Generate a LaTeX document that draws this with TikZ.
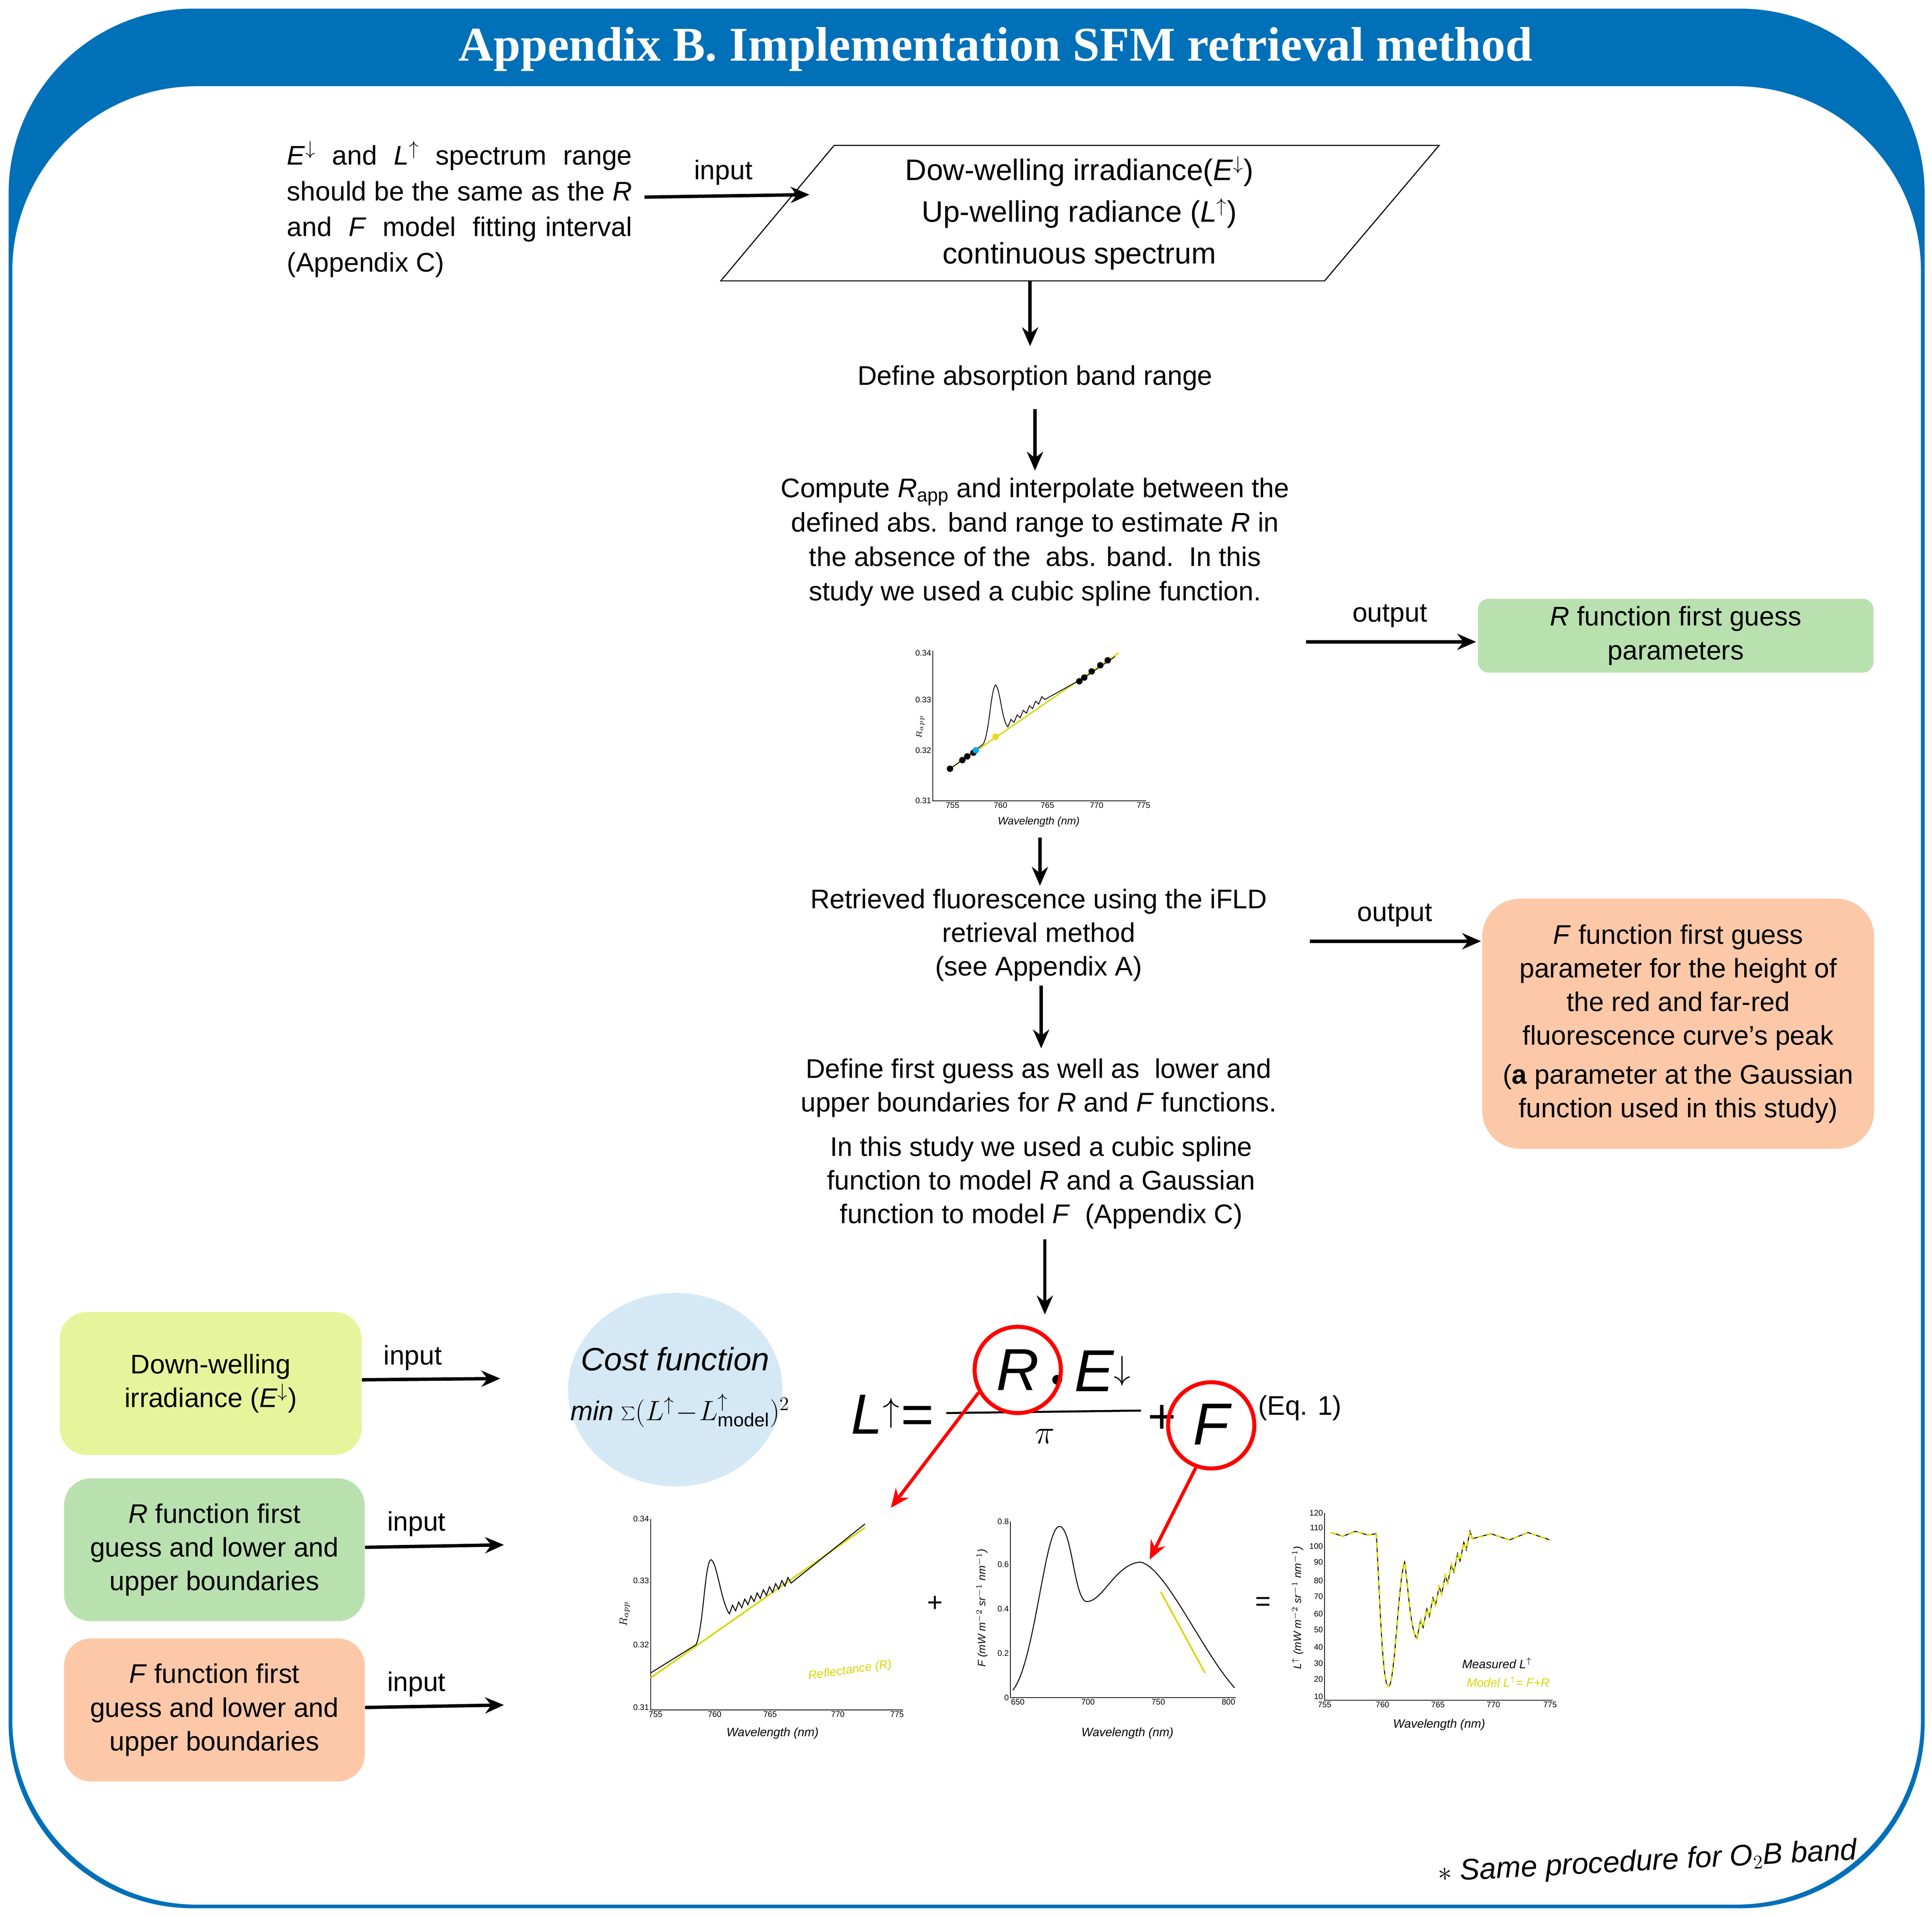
\documentclass[tikz,border=0pt]{standalone}
\usepackage{fontspec}
\setmainfont{Liberation Sans}
\newfontfamily\titlefont{Liberation Serif}
\usetikzlibrary{arrows.meta,shapes.geometric}
\definecolor{hblue}{RGB}{0,112,184}
\definecolor{gbox}{RGB}{185,225,175}
\definecolor{obox}{RGB}{252,200,168}
\definecolor{ybox}{RGB}{230,245,155}
\definecolor{cblue}{RGB}{213,232,245}
\definecolor{yline}{RGB}{215,215,0}
\tikzset{
 txt/.style={font=\fontsize{20}{25}\selectfont,align=center,inner sep=0},
 arr/.style={line width=2.5pt,-{Stealth[length=14pt,width=12pt]}},
 lbl/.style={font=\fontsize{20}{25}\selectfont,inner sep=0},
 box/.style={rounded corners=20pt,font=\fontsize{20}{25}\selectfont,align=center},
 ax/.style={line width=0.6pt},
 tk/.style={font=\fontsize{6}{7}\selectfont,inner sep=1pt},
 red/.style={draw=red,line width=3pt},
 rarr/.style={draw=red,line width=2.5pt,-{Stealth[length=14pt,width=12pt]}},
 hw/.style={font=\itshape,inner sep=0},
 meas/.style={line width=0.7pt,black},
 modl/.style={line width=1.2pt,yline,dash pattern=on 4pt off 3pt},
}
\begin{document}
\begin{tikzpicture}[x=0.03215cm,y=-0.03215cm]
\useasboundingbox (0,0) rectangle (1568,1556);
% frame
\fill[hblue,rounded corners=150*0.03215cm] (7,7) rectangle (1562,1549);
\fill[white,rounded corners=150*0.03215cm] (10,70) rectangle (1559,1546);
\node[font=\titlefont\bfseries\fontsize{36}{40}\selectfont,text=white] (title) at (808,40) {Appendix B. Implementation SFM retrieval method};
% top left note
\node[font=\fontsize{20}{26.5}\selectfont,text width=280*0.03215cm,align=justify,inner sep=0] (note) at (373,170)
 {\textit{E}$^{\downarrow}$ and \textit{L}$^{\uparrow}$ spectrum range should be the same as the \textit{R}\ \ and\ \ \textit{F}\ \ model\ \ fitting interval (Appendix C)};
\coordinate (in0s) at (523,160); \coordinate (in0e) at (657,158);
\draw[arr] (in0s) -- (in0e);
\node[lbl] (in0l) at (587,140) {input};
% parallelogram
\draw[line width=0.8pt] (585,228) -- (677,118) -- (1168,118) -- (1075,228) -- cycle;
\node[txt,font=\fontsize{22}{31}\selectfont] (para) at (876,173) {Dow-welling irradiance(\textit{E}$^{\downarrow}$)\\Up-welling radiance (\textit{L}$^{\uparrow}$)\\continuous spectrum};
\coordinate (p1) at (836,228); \coordinate (p2) at (836,281);
\draw[arr] (p1) -- (p2);
\node[txt] (def) at (840,307) {Define absorption band range};
\coordinate (p3) at (840,332); \coordinate (p4) at (840,382);
\draw[arr] (p3) -- (p4);
\node[txt,font=\fontsize{20}{25.5}\selectfont] (comp) at (840,440) {Compute \textit{R}$_{\mathrm{app}}$ and interpolate between the\\defined abs. band range to estimate \textit{R} in\\the absence of the\ \ abs. band.\ \ In this\\study we used a cubic spline function.};
% small plot
\draw[ax] (757,528) -- (757,650) -- (930,650);
\foreach \v/\y in {0.34/530,0.33/568,0.32/609,0.31/650} \node[tk,anchor=east] at (757,\y) {\v};
\foreach \v/\x in {755/773,760/812,765/850,770/890,775/928} \node[tk,anchor=north] at (\x,650) {\v};
\node[tk,rotate=90] (sp_y) at (747,590) {$R_{app}$};
\node[tk,font=\itshape\fontsize{8}{9}\selectfont] (sp_x) at (843,667) {Wavelength (nm)};
\draw[yline,line width=1pt] (771,624) -- (908,530);
\draw[line width=0.6pt] (771,624) -- (785,614) -- (798,604) .. controls (803,595) and (804,560) .. (808,556) .. controls (812,560) and (813,585) .. (818,590)
 \foreach \i in {0,...,5}{ -- ++(2.5,-6) -- ++(2.5,2.3) } -- (880,550) -- (905,533);
\foreach \x/\y in {771/624,781/617,785/614,790/611,876/553,880/550,886/545,893/540,899/536} \fill (\x,\y) circle (2.6);
\fill[cyan] (792,609) circle (2.6);
\fill[yellow!90!black] (808,598) circle (2.6);
% output 1
\coordinate (o1s) at (1060,521); \coordinate (o1e) at (1198,521);
\draw[arr] (o1s) -- (o1e);
\node[lbl] (o1l) at (1128,500) {output};
\node[box,fill=gbox,minimum width=321*0.03215cm,minimum height=60*0.03215cm,rounded corners=8pt] (gb1) at (1360,516) {\textit{R} function first guess\\parameters};
\coordinate (p5) at (844,680); \coordinate (p6) at (844,719);
\draw[arr] (p5) -- (p6);
\node[txt] (retr) at (843,759) {Retrieved fluorescence using the iFLD\\retrieval method\\(see Appendix A)};
\coordinate (o2s) at (1063,764); \coordinate (o2e) at (1202,764);
\draw[arr] (o2s) -- (o2e);
\node[lbl] (o2l) at (1132,743) {output};
\node[box,fill=obox,minimum width=318*0.03215cm,minimum height=203*0.03215cm,rounded corners=28pt] (ob1) at (1362,831) {\textit{F} function first guess\\parameter for the height of\\the red and far-red\\fluorescence curve's peak\\[4pt](\textbf{a} parameter at the Gaussian\\function used in this study)};
\coordinate (p7) at (845,800); \coordinate (p8) at (845,851);
\draw[arr] (p7) -- (p8);
\node[txt] (deff) at (843,883) {Define first guess as well as\ \ lower and\\upper boundaries for \textit{R} and \textit{F} functions.};
\node[txt] (study) at (845,960) {In this study we used a cubic spline\\function to model \textit{R} and a Gaussian\\function to model \textit{F}\ \ (Appendix C)};
\coordinate (p9) at (848,1006); \coordinate (p10) at (848,1067);
\draw[arr] (p9) -- (p10);
% left boxes
\node[box,fill=ybox,minimum width=245*0.03215cm,minimum height=116*0.03215cm] (yb) at (171,1123) {Down-welling\\irradiance (\textit{E}$^{\downarrow}$)};
\node[box,fill=gbox,minimum width=244*0.03215cm,minimum height=116*0.03215cm] (gb2) at (174,1258) {\textit{R} function first\\guess and lower and\\upper boundaries};
\node[box,fill=obox,minimum width=244*0.03215cm,minimum height=116*0.03215cm] (ob2) at (174,1388) {\textit{F} function first\\guess and lower and\\upper boundaries};
\coordinate (i1) at (406,1119); \coordinate (i2) at (409,1254); \coordinate (i3) at (409,1384);
\draw[arr] (yb.east |- 0,1120) -- (i1);
\draw[arr] (gb2.east |- 0,1256) -- (i2);
\draw[arr] (ob2.east |- 0,1386) -- (i3);
\node[lbl] (il1) at (335,1102) {input};
\node[lbl] (il2) at (338,1237) {input};
\node[lbl] (il3) at (338,1367) {input};
% cost function
\node[ellipse,fill=cblue,minimum width=174*0.03215cm,minimum height=157*0.03215cm] (cost) at (548,1128) {};
\node[hw,font=\itshape\fontsize{24}{28}\selectfont] (costt) at (548,1103) {Cost function};
\node[hw,font=\itshape\fontsize{20}{24}\selectfont] (costf) at (552,1145) {min $\sum(L^{\uparrow}\!-\!L^{\uparrow}_{\mathrm{model}})^2$};
% equation
\node[hw,font=\itshape\fontsize{42}{46}\selectfont] (eqL) at (724,1148) {L$^{\uparrow}$=};
\draw[line width=1.5pt] (768,1147) -- (926,1145);
\node[hw,font=\itshape\fontsize{44}{48}\selectfont] (eqR) at (826,1112) {R};
\fill (858,1120) circle (4);
\node[hw,font=\itshape\fontsize{44}{48}\selectfont] (eqE) at (895,1113) {E$^{\downarrow}$};
\node[inner sep=0,font=\fontsize{40}{44}\selectfont] (eqpi) at (848,1166) {$\pi$};
\node[inner sep=0,font=\fontsize{36}{40}\selectfont] (eqp) at (943,1152) {+};
\node[hw,font=\itshape\fontsize{44}{48}\selectfont] (eqF) at (983,1156) {F};
\node[inner sep=0,font=\fontsize{20}{24}\selectfont] (eqn) at (1055,1143) {(Eq. 1)};
\node[circle,red,minimum size=70*0.03215cm] (cR) at (826,1112) {};
\node[circle,red,minimum size=70*0.03215cm] (cF) at (983,1157) {};
\coordinate (t1) at (723,1224); \coordinate (t2) at (933,1266);
\draw[rarr] (cR.210) -- (t1);
\draw[rarr] (cF.250) -- (t2);
% plot 1
\draw[ax] (528,1233) -- (528,1388) -- (733,1388);
\foreach \v/\y in {0.34/1233,0.33/1283,0.32/1335,0.31/1386} \node[tk,anchor=east] at (528,\y) {\v};
\foreach \v/\x in {755/532,760/580,765/625,770/680,775/728} \node[tk,anchor=north] at (\x,1388) {\v};
\node[tk,rotate=90,font=\fontsize{8}{9}\selectfont] (p1y) at (507,1310) {$R_{app}$};
\node[tk,font=\itshape\fontsize{9}{10}\selectfont] (p1x) at (627,1407) {Wavelength (nm)};
\draw[yline,line width=1.2pt] (528,1362) -- (702,1240);
\draw[line width=0.7pt] (528,1358) -- (565,1335) .. controls (571,1320) and (572,1268) .. (577,1266) .. controls (582,1268) and (585,1300) .. (592,1310)
 \foreach \i in {0,...,9}{ -- ++(2.5,-7) -- ++(2.5,4.5) } -- (702,1237);
\node[tk,text=yline,font=\itshape\fontsize{9}{10}\selectfont,rotate=8] (p1l) at (690,1356) {Reflectance (R)};
% plus
\node[inner sep=0,font=\fontsize{20}{24}\selectfont] (plus) at (759,1302) {+};
% plot 2
\draw[ax] (820,1235) -- (820,1378) -- (1003,1378);
\foreach \v/\y in {0.8/1235,0.6/1270,0.4/1306,0.2/1342,0/1378} \node[tk,anchor=east] at (820,\y) {\v};
\foreach \v/\x in {650/826,700/883,750/940,800/997} \node[tk,anchor=north] at (\x,1378) {\v};
\node[tk,rotate=90,font=\itshape\fontsize{8}{9}\selectfont] (p2y) at (797,1305) {F (mW m$^{-2}$ sr$^{-1}$ nm$^{-1}$)};
\node[tk,font=\itshape\fontsize{9}{10}\selectfont] (p2x) at (915,1407) {Wavelength (nm)};
\draw[line width=0.7pt] (822,1372) .. controls (840,1350) and (848,1238) .. (860,1239) .. controls (870,1240) and (872,1300) .. (882,1300) .. controls (895,1300) and (905,1270) .. (925,1268) .. controls (945,1270) and (975,1340) .. (1002,1370);
\draw[yline,line width=1.2pt] (942,1292) -- (978,1358);
\node[inner sep=0,font=\fontsize{20}{24}\selectfont] (eq) at (1025,1302) {=};
% plot 3
\draw[ax] (1075,1228) -- (1075,1380) -- (1260,1380);
\foreach \v/\y in {120/1228,110/1240,100/1255,90/1268,80/1283,70/1296,60/1310,50/1323,40/1337,30/1350,20/1363,10/1377} \node[tk,anchor=east] at (1075,\y) {\v};
\foreach \v/\x in {755/1075,760/1122,765/1167,770/1212,775/1258} \node[tk,anchor=north] at (\x,1380) {\v};
\node[tk,rotate=90,font=\itshape\fontsize{8}{9}\selectfont] (p3y) at (1053,1305) {L$^{\uparrow}$ (mW m$^{-2}$ sr$^{-1}$ nm$^{-1}$)};
\node[tk,font=\itshape\fontsize{9}{10}\selectfont] (p3x) at (1168,1400) {Wavelength (nm)};
\foreach \st in {meas,modl}{
\draw[\st] (1080,1244) -- (1090,1247) -- (1100,1243) -- (1110,1246) -- (1117,1245) .. controls (1120,1300) and (1122,1370) .. (1127,1369) .. controls (1132,1368) and (1135,1280) .. (1140,1268) .. controls (1143,1290) and (1145,1325) .. (1150,1330)
 \foreach \i in {0,...,8}{ -- ++(3,-15) -- ++(2,6) } -- (1210,1245) -- (1225,1250) -- (1240,1244) -- (1258,1250);}
\node[tk,font=\itshape\fontsize{9}{10}\selectfont] (p3l1) at (1215,1350) {Measured L$^{\uparrow}$};
\node[tk,text=yline,font=\itshape\fontsize{9}{10}\selectfont] (p3l2) at (1224,1365) {Model L$^{\uparrow}$= F+R};
% footnote
\node[hw,font=\itshape\fontsize{22}{26}\selectfont,rotate=3] (foot) at (1337,1512) {$\ast$ Same procedure for O$_2$B band};
\end{tikzpicture}
\end{document}
